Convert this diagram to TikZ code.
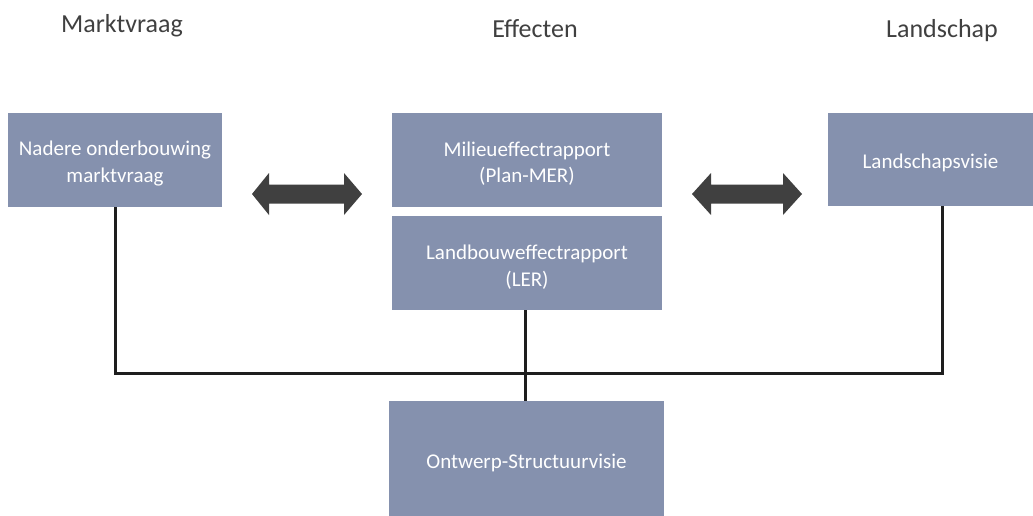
\documentclass[tikz,border=0pt]{standalone}
\usepackage{fontspec}
\setmainfont{Carlito}
\begin{document}
\begin{tikzpicture}[x=1pt,y=-1pt,
  box/.style={fill=boxfill,draw=none,inner sep=0pt},
  boxtext/.style={inner sep=0pt,align=center,text=white,
    font=\fontsize{21}{26.5}\selectfont},
  header/.style={text=headgray,anchor=base,inner sep=0pt,font=\fontsize{26}{30}\selectfont},
  link/.style={line width=3pt,draw=linecol},
  dblarrow/.style={fill=arrowgray,draw=none}]
\definecolor{boxfill}{HTML}{8591AE}
\definecolor{headgray}{HTML}{404040}
\definecolor{arrowgray}{HTML}{404040}
\definecolor{linecol}{HTML}{1E1E1E}
\useasboundingbox (0,0) rectangle (1033,515);
\fill[white] (0,0) rectangle (1033,515);

% headers
\node[header] (h1) at (122,32) {Marktvraag};
\node[header] (h2) at (535,37) {Effecten};
\node[header] (h3) at (942,37) {Landschap};

% boxes
\node[box,minimum width=214pt,minimum height=94pt] (A) at (115,160) {};
\node[box,minimum width=270pt,minimum height=94pt] (B) at (527,160) {};
\node[box,minimum width=270pt,minimum height=94pt] (C) at (527,263) {};
\node[box,minimum width=205pt,minimum height=93pt] (D) at (930.5,159.5) {};
\node[box,minimum width=275pt,minimum height=118pt] (E) at (526.5,460) {};

\node[boxtext] (At) at ([yshift=-3.5pt]A.center) {Nadere onderbouwing\\marktvraag};
\node[boxtext] (Bt) at ([yshift=-3.5pt]B.center) {Milieueffectrapport\\(Plan-MER)};
\node[boxtext] (Ct) at ([yshift=-4pt]C.center) {Landbouweffectrapport\\(LER)};
\node[boxtext] (Dt) at ([yshift=-3.5pt]D.center) {Landschapsvisie};
\node[boxtext] (Et) at ([yshift=-2.5pt]E.center) {Ontwerp-Structuurvisie};

% connectors
\coordinate (lj) at (115,373.3);
\coordinate (rj) at (942.7,373.3);
\coordinate (mj) at (525,373.3);
\draw[link] (A.south) -- (lj) -- (rj) -- (rj |- D.south);
\draw[link] (mj |- C.south) -- (mj |- E.north);

% double arrows
\fill[dblarrow] (252,194) -- (269,173) -- (269,184.5) -- (344,184.5) -- (344,173) -- (362,194)
  -- (344,215) -- (344,203.5) -- (269,203.5) -- (269,215) -- cycle;
\fill[dblarrow] (692,194) -- (711,173) -- (711,184.5) -- (783,184.5) -- (783,173) -- (802,194)
  -- (783,215) -- (783,203.5) -- (711,203.5) -- (711,215) -- cycle;
\end{tikzpicture}
\end{document}
